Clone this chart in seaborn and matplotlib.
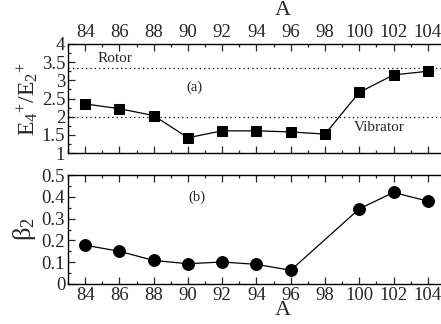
import numpy as np
import pandas as pd
import matplotlib
matplotlib.use("Agg")
import matplotlib.pyplot as plt
import seaborn as sns
from matplotlib.ticker import MultipleLocator

# ------------------------------
# data
# ------------------------------
mass_a = [84, 86, 88, 90, 92, 94, 96, 98, 100, 102, 104]
ratio_e4e2 = [2.35, 2.22, 2.03, 1.42, 1.61, 1.61, 1.58, 1.52, 2.67, 3.15, 3.25]

mass_b = [84, 86, 88, 90, 92, 94, 96, 100, 102, 104]
beta2 = [0.178, 0.150, 0.108, 0.093, 0.101, 0.090, 0.063, 0.345, 0.420, 0.380]

rotor_limit = 3.33
vibrator_limit = 2.0
x_ticks = list(range(84, 105, 2))

# ------------------------------
# style
# ------------------------------
sns.set_style("ticks")
plt.rcParams["font.family"] = ["Liberation Serif", "DejaVu Serif"]
plt.rcParams["mathtext.fontset"] = "custom"
plt.rcParams["mathtext.rm"] = "Liberation Serif"
plt.rcParams["mathtext.it"] = "Liberation Serif:italic"

fig = plt.figure(figsize=(4.41, 3.24), dpi=100)
W, H = 441, 324
ax1 = fig.add_axes([68 / W, 1 - 153 / H, 377 / W, 109 / H])
ax2 = fig.add_axes([68 / W, 1 - 284 / H, 377 / W, 109 / H])

df_a = pd.DataFrame({"A": mass_a, "R": ratio_e4e2})
df_b = pd.DataFrame({"A": mass_b, "beta": beta2})

sns.lineplot(data=df_a, x="A", y="R", ax=ax1, color="black", lw=0.9,
             marker="s", markersize=7.5, markeredgecolor="black")
sns.lineplot(data=df_b, x="A", y="beta", ax=ax2, color="black", lw=0.9,
             marker="o", markersize=8.5, markeredgecolor="black")

ax1.axhline(rotor_limit, color="black", ls=(0, (1, 2.5)), lw=0.9)
ax1.axhline(vibrator_limit, color="black", ls=(0, (1, 2.5)), lw=0.9)
ax1.text(84.75, 3.5, "Rotor", fontsize=11)
ax1.text(99.7, 1.6, "Vibrator", fontsize=11)
ax1.text(90.4, 2.72, "(a)", fontsize=10.5, ha="center")
ax2.text(90.5, 0.38, "(b)", fontsize=10.5, ha="center")

for ax in (ax1, ax2):
    ax.set_xlim(83, 105)
    ax.set_xticks(x_ticks)
    ax.xaxis.set_minor_locator(MultipleLocator(1))
    ax.tick_params(which="both", direction="in", top=True, bottom=True,
                   left=True, right=False, width=0.9, labelsize=13.5, pad=2)
    ax.tick_params(which="major", length=5)
    ax.tick_params(which="minor", length=2.5)
    for s in ax.spines.values():
        s.set_linewidth(1.0)
        s.set_color("black")

ax1.set_ylim(1, 4)
ax1.set_yticks([1, 1.5, 2, 2.5, 3, 3.5, 4])
ax1.set_yticklabels(["1", "1.5", "2", "2.5", "3", "3.5", "4"])
ax1.yaxis.set_minor_locator(MultipleLocator(0.25))
ax1.tick_params(axis="x", labeltop=True, labelbottom=False)
ax1.xaxis.set_label_position("top")
ax1.set_xlabel("A", fontsize=16)
ax1.xaxis.set_label_coords(0.57, 1.27)
ax1.set_ylabel(r"$\mathrm{E_4{}^{+}/E_2{}^{+}}$", fontsize=17, labelpad=1)

ax2.set_ylim(0, 0.5)
ax2.set_yticks([0, 0.1, 0.2, 0.3, 0.4, 0.5])
ax2.set_yticklabels(["0", "0.1", "0.2", "0.3", "0.4", "0.5"])
ax2.yaxis.set_minor_locator(MultipleLocator(0.05))
ax2.set_xlabel("A", fontsize=16)
ax2.xaxis.set_label_coords(0.57, -0.16)
ax2.set_ylabel(r"$\mathrm{β_2}$", fontsize=19, labelpad=3)

fig.savefig("out.png", dpi=100)
